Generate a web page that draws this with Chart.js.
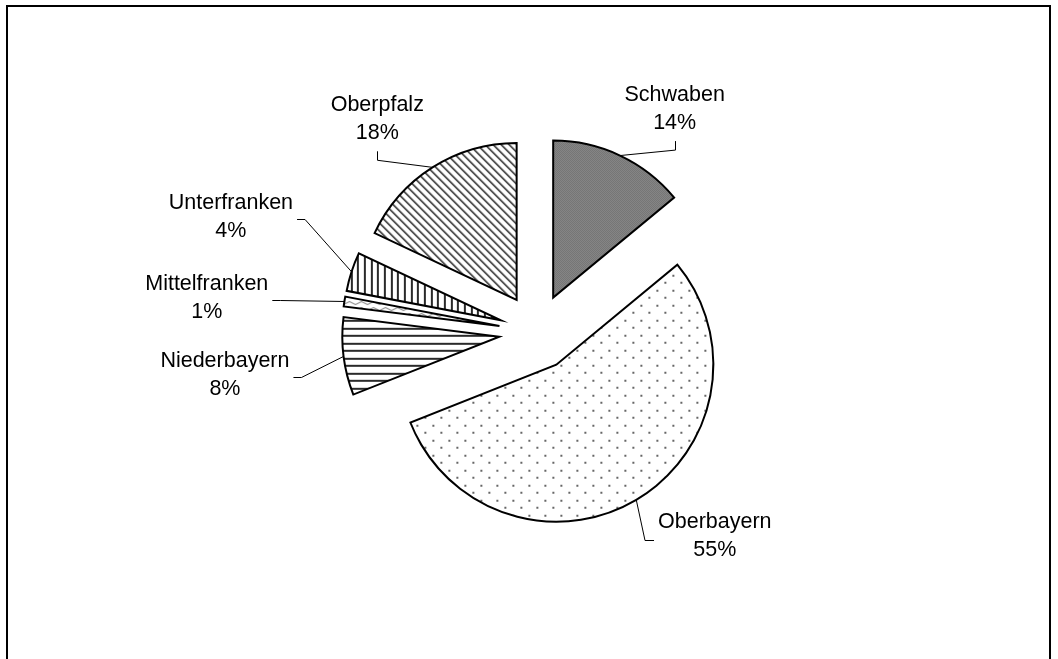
<!DOCTYPE html>
<html>
<head>
<meta charset="utf-8">
<script src="https://cdn.jsdelivr.net/npm/chart.js@4"></script>
<style>
  html, body { margin: 0; padding: 0; background: #fff; }
  canvas { display: block; }
</style>
</head>
<body>
<canvas id="regionChart" width="1058" height="659"></canvas>
<script>
const regions = ['Schwaben', 'Oberbayern', 'Niederbayern', 'Mittelfranken', 'Unterfranken', 'Oberpfalz'];
const shares = [14, 55, 8, 1, 4, 18];

// where each label block sits: degrees clockwise from 12 o'clock, distance from pie centre
const labelAngles = [31.7, 139, 262.2, 275.9, 290.6, 323.1];
const labelDists = [262, 271, 315, 332, 327, 266];

const EXPLODE = 38;
const FONT = '21.5px "Liberation Sans", Arial, sans-serif';

const canvas = document.getElementById('regionChart');
const ctx = canvas.getContext('2d');

function makePattern(w, h, paint) {
  const c = document.createElement('canvas');
  c.width = w;
  c.height = h;
  const g = c.getContext('2d');
  g.fillStyle = '#fff';
  g.fillRect(0, 0, w, h);
  paint(g);
  return ctx.createPattern(c, 'repeat');
}

// hatch fills, one per region
const checker = makePattern(2, 2, g => {
  g.fillStyle = '#acacac';
  g.fillRect(0, 0, 2, 2);
  g.fillStyle = '#505050';
  g.fillRect(0, 0, 1, 1);
  g.fillRect(1, 1, 1, 1);
});
const dots = makePattern(16, 15, g => {
  g.fillStyle = '#666';
  g.fillRect(13, 2, 2, 2);
  g.fillRect(5, 9, 2, 2);
});
const hLines = makePattern(4, 15, g => {
  g.fillStyle = '#2a2a2a';
  g.fillRect(0, 0, 4, 2);
  g.fillRect(0, 8, 4, 2);
});
const waves = makePattern(12, 6, g => {
  g.strokeStyle = '#777';
  g.lineWidth = 1;
  g.beginPath();
  g.moveTo(0, 3);
  g.quadraticCurveTo(3, 0, 6, 3);
  g.quadraticCurveTo(9, 6, 12, 3);
  g.stroke();
});
const vLines = makePattern(20, 4, g => {
  g.fillStyle = '#2a2a2a';
  g.fillRect(0, 0, 2, 4);
  g.fillRect(7, 0, 2, 4);
  g.fillRect(13, 0, 2, 4);
});
const diag = makePattern(8, 8, g => {
  for (let y = 0; y < 8; y++) {
    for (let x = 0; x < 8; x++) {
      const k = (x - y + 8) % 8;
      if (k < 2) {
        g.fillStyle = '#464646';
        g.fillRect(x, y, 1, 1);
      } else if (k === 2) {
        g.fillStyle = '#a8a8a8';
        g.fillRect(x, y, 1, 1);
      }
    }
  }
});

// pull every slice out along its bisector without growing it
const arcDraw = Chart.ArcElement.prototype.draw;
Chart.ArcElement.prototype.draw = function (c) {
  const mid = (this.startAngle + this.endAngle) / 2;
  c.save();
  c.translate(Math.cos(mid) * EXPLODE, Math.sin(mid) * EXPLODE);
  arcDraw.call(this, c);
  c.restore();
};

const framePlugin = {
  id: 'frame',
  beforeDraw(chart) {
    const c = chart.ctx;
    c.save();
    c.fillStyle = '#fff';
    c.fillRect(0, 0, chart.width, chart.height);
    c.strokeStyle = '#000';
    c.lineWidth = 2;
    c.strokeRect(7, 6, 1043, 700);
    c.restore();
  }
};

const labelPlugin = {
  id: 'sliceLabels',
  afterDatasetsDraw(chart) {
    const c = chart.ctx;
    const arcs = chart.getDatasetMeta(0).data;
    const total = shares.reduce((a, b) => a + b, 0);
    c.save();
    c.font = FONT;
    c.fillStyle = '#000';
    c.strokeStyle = '#000';
    c.lineWidth = 1;
    c.textAlign = 'center';
    c.textBaseline = 'middle';

    arcs.forEach((arc, i) => {
      const mid = (arc.startAngle + arc.endAngle) / 2;
      const r = arc.outerRadius + EXPLODE;
      const px = arc.x + Math.cos(mid) * r;
      const py = arc.y + Math.sin(mid) * r;

      const la = (labelAngles[i] - 90) * Math.PI / 180;
      const lx = arc.x + Math.cos(la) * labelDists[i];
      const ly = arc.y + Math.sin(la) * labelDists[i];
      const pct = Math.round(shares[i] / total * 100) + '%';
      const w = Math.max(c.measureText(regions[i]).width, c.measureText(pct).width);

      // leader line
      const a = labelAngles[i] % 360;
      c.beginPath();
      if (a < 45 || a > 315) {
        const sx = Math.round(lx) + 0.5;
        c.moveTo(sx, ly + 32);
        c.lineTo(sx, ly + 41);
      } else if (lx < px) {
        const sx = lx + w / 2 + 4;
        const sy = Math.round(ly + 2) + 0.5;
        c.moveTo(sx, sy);
        c.lineTo(sx + 8, sy);
      } else {
        const sx = lx - w / 2 - 4;
        const sy = Math.round(ly + 3) + 0.5;
        c.moveTo(sx, sy);
        c.lineTo(sx - 9, sy);
      }
      c.lineTo(px, py);
      c.stroke();

      c.fillText(regions[i], lx, ly - 14);
      c.fillText(pct, lx, ly + 14);
    });
    c.restore();
  }
};

new Chart(ctx, {
  type: 'pie',
  data: {
    labels: regions,
    datasets: [{
      data: shares,
      backgroundColor: [checker, dots, hLines, waves, vLines, diag],
      borderColor: '#000',
      borderWidth: 2,
      borderJoinStyle: 'miter',
      radius: 157
    }]
  },
  options: {
    responsive: false,
    animation: false,
    devicePixelRatio: 1,
    layout: { padding: { left: 116, right: 100, top: 105, bottom: 100 } },
    plugins: {
      legend: { display: false },
      tooltip: { enabled: false }
    }
  },
  plugins: [framePlugin, labelPlugin]
});
</script>
</body>
</html>
